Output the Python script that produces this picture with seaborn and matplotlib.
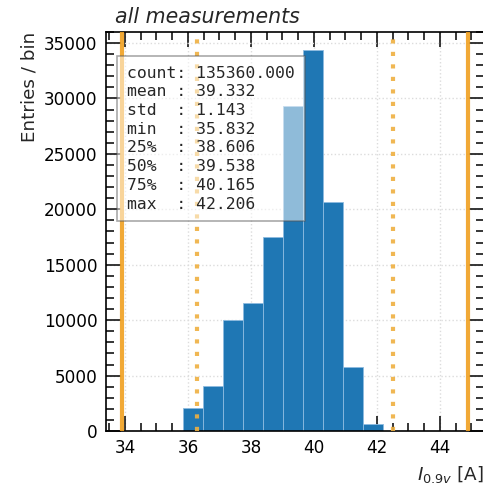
import numpy as np
import pandas as pd
import matplotlib
matplotlib.use("Agg")
import matplotlib.pyplot as plt
import seaborn as sns
from matplotlib.ticker import MultipleLocator

# ---- data ----
bin_lo = 35.832
bin_hi = 42.206
n_bins = 10
counts = [2050, 4050, 10000, 11550, 17500, 29300, 34350, 20650, 5750, 600]
hard_limits = [33.9, 44.9]
soft_limits = [36.28, 42.52]
stat_names = ["count", "mean ", "std  ", "min  ", "25%  ", "50%  ", "75%  ", "max  "]
stat_values = [135360.000, 39.332, 1.143, 35.832, 38.606, 39.538, 40.165, 42.206]
title = "all measurements"
xlabel = r"$I_{0.9v}$ [A]"
ylabel = "Entries / bin"

edges = [float(e) for e in np.linspace(bin_lo, bin_hi, n_bins + 1)]
centers = [0.5 * (a + b) for a, b in zip(edges[:-1], edges[1:])]
df = pd.DataFrame({"x": centers, "w": counts})

sns.set_style("white")
plt.rcParams["font.family"] = ["DejaVu Sans"]
plt.rcParams["mathtext.fontset"] = "dejavusans"

fig = plt.figure(figsize=(4.83, 4.84), dpi=100)
ax = fig.add_axes([0.2195, 0.1095, 0.7826, 0.8244])

ax.grid(True, which="major", linestyle=":", color="#dcdcdc", linewidth=1.0)
ax.set_axisbelow(True)

sns.histplot(data=df, x="x", weights="w", bins=edges, ax=ax,
             color="#1f77b4", alpha=1.0, edgecolor="#8dbbe0", linewidth=0.6)

for v in hard_limits:
    ax.axvline(v, color="#f0a020", linewidth=3.0, alpha=0.9, zorder=3)
for v in soft_limits:
    ax.axvline(v, color="#efb040", linewidth=3.0, linestyle=(0, (1, 2)), alpha=0.9, zorder=3)

ax.set_xlim(hard_limits[0] - 0.5, hard_limits[1] + 0.5)
ax.set_ylim(0, 36000)
ax.xaxis.set_major_locator(MultipleLocator(2))
ax.xaxis.set_minor_locator(MultipleLocator(0.5))
ax.yaxis.set_major_locator(MultipleLocator(5000))
ax.yaxis.set_minor_locator(MultipleLocator(1000))
ax.tick_params(which="both", direction="in", top=True, right=True, bottom=True, left=True,
               labelsize=12.2, colors="black", width=1.1)
ax.tick_params(which="major", length=10.5)
ax.tick_params(which="minor", length=6)
ax.tick_params(axis="x", which="major", pad=6)
ax.tick_params(axis="y", which="major", pad=6)
for s in ax.spines.values():
    s.set_linewidth(1.2)
    s.set_color("black")

ax.set_xlabel(xlabel, loc="right", fontsize=13.2, labelpad=5)
ax.set_ylabel(ylabel, loc="top", fontsize=13.2, labelpad=4)
ax.text(0.025, 1.012, title, transform=ax.transAxes, fontsize=14.8, style="italic",
        ha="left", va="bottom")

lines = []
for n, v in zip(stat_names, stat_values):
    lines.append(f"{n}: {v:.3f}")
ax.text(0.055, 0.916, "\n".join(lines), transform=ax.transAxes, family="DejaVu Sans Mono",
        fontsize=11.8, va="top", ha="left", linespacing=1.31, zorder=5,
        bbox=dict(boxstyle="square,pad=0.6", facecolor="white", alpha=0.5,
                  edgecolor="#555555", linewidth=1.2))

fig.savefig("out.png", dpi=100)
